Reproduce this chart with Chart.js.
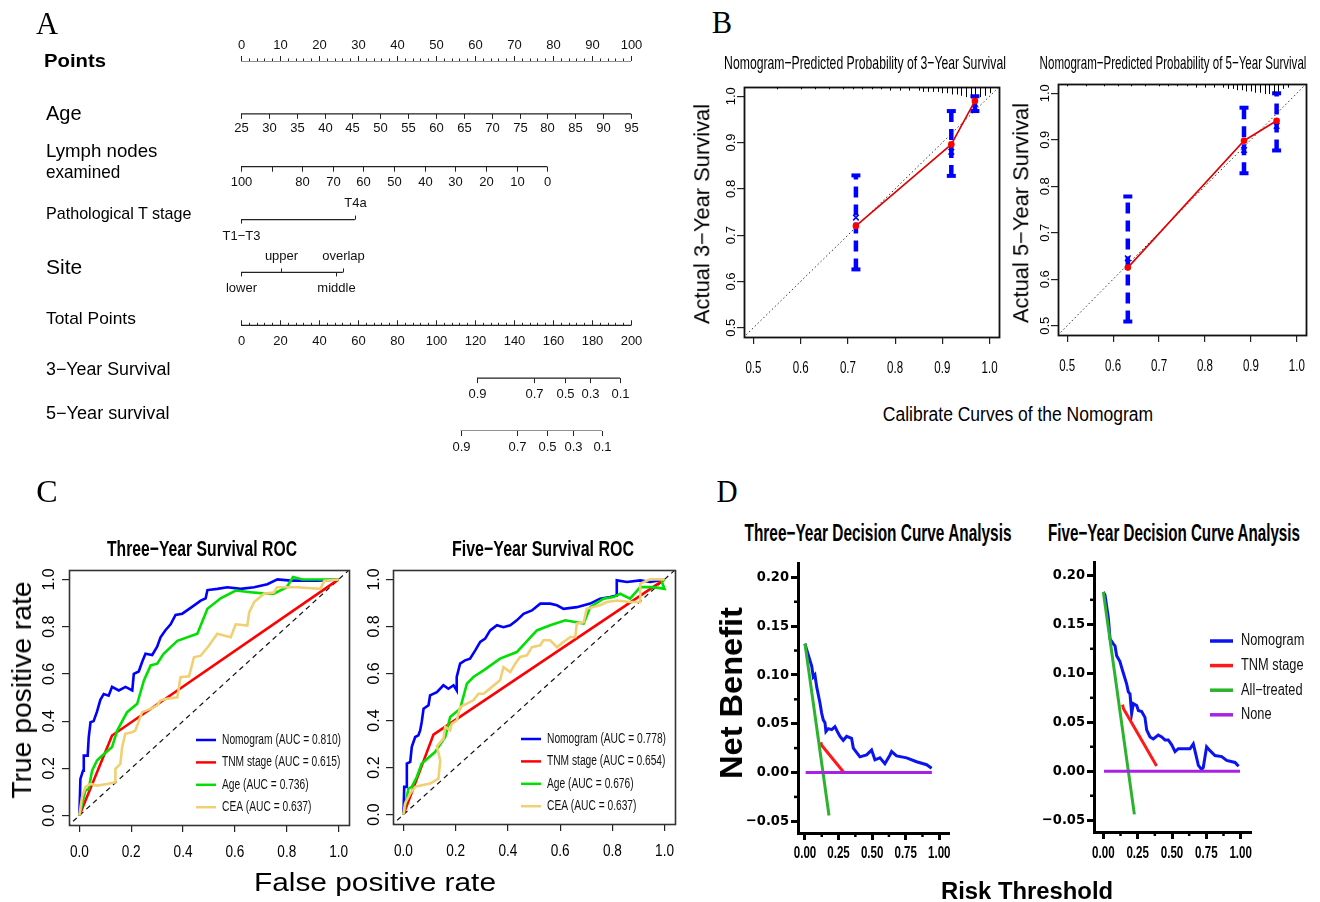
<!DOCTYPE html>
<html>
<head>
<meta charset="utf-8">
<script src="https://cdn.jsdelivr.net/npm/chart.js@4.4.1/dist/chart.umd.min.js"></script>
<style>
  html, body { margin: 0; padding: 0; background: #fff; }
  #page { position: relative; width: 1320px; height: 902px; overflow: hidden; background: #fff; color: #000;
          font-family: "Liberation Sans", Arial, sans-serif; }
  #page canvas { position: absolute; }
  .lbl { position: absolute; white-space: nowrap; line-height: 1; }
</style>
</head>
<body>
<div id="page"></div>
<script>
// ---------- A: nomogram ----------
const pointsTicks = [0, 10, 20, 30, 40, 50, 60, 70, 80, 90, 100];
const ageTicks = [25, 30, 35, 40, 45, 50, 55, 60, 65, 70, 75, 80, 85, 90, 95];
const ageSpan = [25, 95], ageSpanPts = [0, 100];
const lymphTicks = [100, 90, 80, 70, 60, 50, 40, 30, 20, 10, 0];
const lymphLabels = ['100', '', '80', '70', '60', '50', '40', '30', '20', '10', '0'];
const lymphSpan = [100, 0], lymphSpanPts = [0, 78.5];
const tStageLevels = ['T1\u2212T3', 'T4a'];
const tStagePts = [0, 29.2];
const siteLevels = ['lower', 'upper', 'middle', 'overlap'];
const sitePts = [0, 10.3, 24.4, 26.1];
const totalTicks = [0, 20, 40, 60, 80, 100, 120, 140, 160, 180, 200];
const totalSpan = [0, 200], totalSpanPts = [0, 100];
const survLabels = ['0.9', '0.7', '0.5', '0.3', '0.1'];
const surv3Total = [121.0, 150.3, 165.9, 179.0, 194.4];
const surv5Total = [112.6, 141.5, 156.9, 170.0, 185.1];

// ---------- B: calibration ----------
const calTicks = [0.5, 0.6, 0.7, 0.8, 0.9, 1.0];
const calLabels = ['0.5', '0.6', '0.7', '0.8', '0.9', '1.0'];
const calRef = [0.4, 1.1];
const cal3Pred = [0.717, 0.919, 0.969];
const cal3Obs = [0.72, 0.896, 0.99];
const cal3Lo = [0.626, 0.828, 0.968];
const cal3Hi = [0.829, 0.968, 1.0];
const cal3Corr = [0.738, 0.88, 0.974];
const rug3X = [0.55, 0.6, 0.63, 0.66, 0.69, 0.71, 0.73, 0.75, 0.77, 0.79, 0.81, 0.83, 0.85, 0.86, 0.87, 0.88, 0.89, 0.9, 0.91, 0.92, 0.93, 0.94, 0.95, 0.96, 0.97, 0.98, 0.99, 1.0];
const rug3N = [1, 1, 1, 1, 1, 1, 1, 1, 1, 2, 2, 2, 2, 3, 3, 3, 3, 4, 4, 5, 5, 6, 7, 8, 8, 7, 6, 4];
const cal5Pred = [0.632, 0.885, 0.956];
const cal5Obs = [0.625, 0.898, 0.941];
const cal5Lo = [0.509, 0.828, 0.877];
const cal5Hi = [0.778, 0.969, 1.0];
const cal5Corr = [0.645, 0.878, 0.93];
const rug5X = [0.5, 0.54, 0.58, 0.61, 0.64, 0.67, 0.7, 0.72, 0.74, 0.76, 0.78, 0.8, 0.82, 0.84, 0.85, 0.86, 0.87, 0.88, 0.89, 0.9, 0.91, 0.92, 0.93, 0.94, 0.95, 0.96, 0.97, 0.98];
const rug5N = [1, 1, 1, 1, 1, 1, 1, 1, 1, 1, 2, 2, 2, 2, 3, 3, 4, 4, 5, 5, 6, 6, 7, 7, 6, 5, 3, 2];

// ---------- C: ROC ----------
const rocTicks = [0, 0.2, 0.4, 0.6, 0.8, 1.0];
const rocLabels = ['0.0', '0.2', '0.4', '0.6', '0.8', '1.0'];
const rocRef = [-0.05, 1.05];
const roc3NomFpr = [0, 0.004, 0.014, 0.017, 0.032, 0.036, 0.043, 0.055, 0.068, 0.081, 0.094, 0.113, 0.126, 0.152, 0.178, 0.204, 0.21, 0.229, 0.242, 0.255, 0.281, 0.3, 0.313, 0.332, 0.352, 0.371, 0.397, 0.436, 0.468, 0.487, 0.494, 0.532, 0.571, 0.622, 0.674, 0.725, 0.764, 0.815, 0.919, 1.0];
const roc3NomTpr = [0, 0.155, 0.19, 0.254, 0.254, 0.33, 0.395, 0.40, 0.44, 0.49, 0.515, 0.508, 0.545, 0.53, 0.545, 0.53, 0.60, 0.61, 0.65, 0.685, 0.68, 0.715, 0.755, 0.785, 0.81, 0.85, 0.855, 0.885, 0.91, 0.92, 0.955, 0.96, 0.967, 0.96, 0.967, 0.98, 1.0, 0.995, 0.995, 1.0];
const roc3TnmFpr = [0, 0.126, 1];
const roc3TnmTpr = [0, 0.339, 1];
const roc3AgeFpr = [0, 0.023, 0.036, 0.049, 0.068, 0.081, 0.126, 0.146, 0.184, 0.223, 0.249, 0.275, 0.30, 0.325, 0.378, 0.455, 0.494, 0.545, 0.603, 0.66, 0.72, 0.75, 0.8, 0.824, 0.86, 0.93, 1.0];
const roc3AgeTpr = [0, 0.106, 0.113, 0.19, 0.233, 0.247, 0.29, 0.36, 0.438, 0.473, 0.572, 0.636, 0.643, 0.685, 0.74, 0.77, 0.876, 0.92, 0.953, 0.946, 0.94, 0.94, 0.967, 1.01, 1.0, 1.0, 1.0];
const roc3CeaFpr = [0, 0.01, 0.023, 0.043, 0.068, 0.107, 0.139, 0.139, 0.158, 0.165, 0.177, 0.203, 0.216, 0.242, 0.274, 0.3, 0.312, 0.332, 0.378, 0.39, 0.423, 0.442, 0.468, 0.5, 0.532, 0.584, 0.603, 0.648, 0.655, 0.674, 0.713, 0.75, 0.763, 0.84, 0.93, 0.945, 1];
const roc3CeaTpr = [0, 0.078, 0.12, 0.134, 0.127, 0.134, 0.141, 0.198, 0.219, 0.29, 0.346, 0.353, 0.36, 0.438, 0.452, 0.466, 0.487, 0.494, 0.501, 0.586, 0.59, 0.67, 0.677, 0.72, 0.77, 0.755, 0.81, 0.805, 0.86, 0.904, 0.94, 0.945, 0.967, 0.967, 0.96, 0.995, 1];
const roc3Names = ['Nomogram (AUC = 0.810)', 'TNM stage (AUC = 0.615)', 'Age (AUC = 0.736)', 'CEA (AUC = 0.637)'];

const roc5NomFpr = [0, 0.003, 0.013, 0.013, 0.026, 0.032, 0.045, 0.057, 0.064, 0.07, 0.077, 0.096, 0.102, 0.128, 0.153, 0.172, 0.192, 0.204, 0.204, 0.217, 0.236, 0.255, 0.275, 0.294, 0.313, 0.332, 0.358, 0.383, 0.409, 0.434, 0.46, 0.492, 0.524, 0.562, 0.588, 0.613, 0.664, 0.715, 0.753, 0.792, 0.817, 0.817, 0.856, 0.907, 0.945, 1];
const roc5NomTpr = [0, 0.118, 0.118, 0.217, 0.224, 0.288, 0.33, 0.337, 0.358, 0.394, 0.45, 0.465, 0.507, 0.521, 0.55, 0.535, 0.55, 0.528, 0.585, 0.642, 0.656, 0.663, 0.698, 0.734, 0.748, 0.783, 0.805, 0.797, 0.805, 0.826, 0.854, 0.868, 0.897, 0.897, 0.89, 0.875, 0.882, 0.897, 0.918, 0.925, 0.932, 0.996, 0.989, 0.996, 0.989, 1];
const roc5TnmFpr = [0, 0.115, 1];
const roc5TnmTpr = [0, 0.34, 1];
const roc5AgeFpr = [0, 0.019, 0.032, 0.051, 0.07, 0.121, 0.16, 0.179, 0.217, 0.243, 0.268, 0.307, 0.37, 0.434, 0.511, 0.562, 0.62, 0.69, 0.715, 0.766, 0.805, 0.83, 0.868, 0.907, 0.958, 1.0, 0.99, 1];
const roc5AgeTpr = [0, 0.11, 0.118, 0.16, 0.217, 0.266, 0.33, 0.415, 0.45, 0.557, 0.585, 0.613, 0.663, 0.691, 0.783, 0.805, 0.826, 0.812, 0.882, 0.918, 0.925, 0.939, 0.918, 0.967, 0.967, 0.96, 0.989, 1];
const roc5CeaFpr = [0, 0.006, 0.026, 0.045, 0.07, 0.102, 0.134, 0.141, 0.128, 0.153, 0.16, 0.179, 0.185, 0.204, 0.217, 0.243, 0.268, 0.287, 0.307, 0.338, 0.37, 0.383, 0.409, 0.428, 0.447, 0.473, 0.492, 0.524, 0.536, 0.562, 0.588, 0.613, 0.639, 0.658, 0.664, 0.69, 0.702, 0.753, 0.779, 0.817, 0.868, 0.907, 0.907, 0.945, 1];
const roc5CeaTpr = [0, 0.047, 0.09, 0.118, 0.125, 0.132, 0.153, 0.23, 0.29, 0.323, 0.373, 0.358, 0.386, 0.4, 0.457, 0.472, 0.486, 0.514, 0.514, 0.542, 0.571, 0.627, 0.606, 0.642, 0.67, 0.677, 0.712, 0.72, 0.741, 0.741, 0.712, 0.734, 0.755, 0.755, 0.812, 0.818, 0.875, 0.89, 0.904, 0.91, 0.904, 0.904, 0.982, 1.0, 1];
const roc5Names = ['Nomogram (AUC = 0.778)', 'TNM stage (AUC = 0.654)', 'Age (AUC = 0.676)', 'CEA (AUC = 0.637)'];

// ---------- D: decision curves ----------
const dcaXTicks = [0, 0.25, 0.5, 0.75, 1.0];
const dcaXLabels = ['0.00', '0.25', '0.50', '0.75', '1.00'];
const dcaXMinor = [0.125, 0.375, 0.625, 0.875];
const dcaYTicks = [-0.05, 0, 0.05, 0.10, 0.15, 0.20];
const dcaYLabels = ['\u22120.05', '0.00', '0.05', '0.10', '0.15', '0.20'];
const dcaYMinor = [-0.025, 0.025, 0.075, 0.125, 0.175];
const dcaNames = ['Nomogram', 'TNM stage', 'All\u2212treated', 'None'];
const dca3NomX = [0, 0.012, 0.05, 0.062, 0.074, 0.087, 0.112, 0.124, 0.136, 0.149, 0.156, 0.174, 0.199, 0.223, 0.241, 0.261, 0.285, 0.31, 0.347, 0.36, 0.409, 0.459, 0.496, 0.521, 0.558, 0.595, 0.633, 0.645, 0.682, 0.757, 0.831, 0.906, 0.943];
const dca3NomY = [0.132, 0.126, 0.109, 0.098, 0.1, 0.088, 0.071, 0.061, 0.054, 0.051, 0.042, 0.045, 0.044, 0.047, 0.042, 0.037, 0.033, 0.037, 0.035, 0.025, 0.016, 0.018, 0.023, 0.013, 0.015, 0.009, 0.018, 0.0215, 0.017, 0.015, 0.011, 0.008, 0.0044];
const dca3TnmX = [0.118, 0.124, 0.29];
const dca3TnmY = [0.031, 0.028, 0.0];
const dca3AllX = [0, 0.179];
const dca3AllY = [0.132, -0.044];
const dca3NoneX = [0.005, 0.945];
const dca3NoneY = [0, 0];
const dca5NomX = [0, 0.012, 0.036, 0.049, 0.073, 0.085, 0.097, 0.121, 0.133, 0.146, 0.17, 0.182, 0.194, 0.206, 0.218, 0.243, 0.255, 0.279, 0.303, 0.316, 0.34, 0.364, 0.4, 0.425, 0.449, 0.473, 0.498, 0.522, 0.546, 0.631, 0.655, 0.667, 0.692, 0.716, 0.728, 0.752, 0.777, 0.813, 0.862, 0.898, 0.959, 0.985];
const dca5NomY = [0.183, 0.18, 0.157, 0.135, 0.13, 0.128, 0.118, 0.112, 0.106, 0.1, 0.089, 0.081, 0.079, 0.059, 0.069, 0.067, 0.062, 0.061, 0.055, 0.042, 0.035, 0.033, 0.037, 0.035, 0.032, 0.032, 0.027, 0.02, 0.023, 0.023, 0.028, 0.021, 0.006, 0.0017, 0.004, 0.025, 0.021, 0.016, 0.015, 0.011, 0.009, 0.005];
const dca5TnmX = [0.14, 0.146, 0.388];
const dca5TnmY = [0.068, 0.064, 0.0054];
const dca5AllX = [0, 0.226];
const dca5AllY = [0.183, -0.044];
const dca5NoneX = [0.005, 0.995];
const dca5NoneY = [0, 0];

// ---------- helpers ----------
const SANS = '"Liberation Sans", Arial, sans-serif';
const NARROW = '"Liberation Sans Narrow", "Arial Narrow", "DejaVu Sans Condensed", "Liberation Sans", sans-serif';
const SERIF = '"Liberation Serif", "Times New Roman", serif';
const page = document.getElementById('page');
const zip = (xs, ys) => xs.map((x, i) => ({ x, y: ys[i] }));

Chart.defaults.color = '#000';
Chart.defaults.font.family = SANS;

function addCanvas(L, T, W, H) {
  const c = document.createElement('canvas');
  c.width = W; c.height = H;
  c.style.left = L + 'px'; c.style.top = T + 'px';
  c.style.width = W + 'px'; c.style.height = H + 'px';
  page.appendChild(c);
  return c;
}

// canvas box [L,T,W,H] and plot area [x0,y0,x1,y1] in page pixels
function makeChart(box, area, cfg, yW, xH) {
  const [L, T, W, H] = box, [x0, y0, x1, y1] = area;
  const c = addCanvas(L, T, W, H);
  cfg.options = Object.assign({ responsive: false, maintainAspectRatio: false, animation: false, events: [], devicePixelRatio: 1 }, cfg.options);
  cfg.options.layout = { padding: { left: x0 - L - yW, top: y0 - T, right: L + W - x1, bottom: T + H - y1 - xH } };
  cfg.options.plugins = Object.assign({ legend: { display: false }, tooltip: { enabled: false } }, cfg.options.plugins);
  return new Chart(c, cfg);
}

function axis(o) {
  return {
    type: 'linear', min: o.min, max: o.max, bounds: 'data',
    afterBuildTicks: s => { s.ticks = o.ticks.map(v => ({ value: v })); },
    afterFit: s => { if (o.horiz) s.height = o.size; else s.width = o.size; },
    ticks: { display: o.showLabels !== false, autoSkip: false, maxRotation: 0, minRotation: 0,
             padding: o.padding || 3, color: '#000', font: o.font, callback: (v, i) => o.labels[i] },
    grid: { display: true, drawOnChartArea: false, drawTicks: true, tickLength: o.tickLen || 7,
            lineWidth: o.tickW || 1.2, color: o.color || '#222' },
    border: o.border ? { display: true, width: o.border, color: '#000' } : { display: false }
  };
}

function spanScale(vals, pts) {
  const b = (vals[1] - vals[0]) / (pts[1] - pts[0]);
  const a = vals[0] - b * pts[0];
  return b > 0 ? { min: a, max: a + 100 * b, reverse: false } : { min: a + 100 * b, max: a, reverse: true };
}

// ---------- plugins ----------
const framePlugin = {
  id: 'frame',
  afterDatasetsDraw(chart, args, o) {
    const { ctx, chartArea: a } = chart;
    ctx.save(); ctx.strokeStyle = o.color || '#333'; ctx.lineWidth = o.lw || 1.5;
    ctx.strokeRect(Math.round(a.left) + 0.5, Math.round(a.top) + 0.5, Math.round(a.width), Math.round(a.height));
    ctx.restore();
  }
};

// y tick labels written upwards (R style)
const rotYPlugin = {
  id: 'rotY',
  afterDraw(chart, args, o) {
    const { ctx, chartArea: a } = chart, ys = chart.scales.y;
    ctx.save(); ctx.font = o.font; ctx.fillStyle = '#000';
    ctx.textAlign = 'center'; ctx.textBaseline = 'middle';
    ys.ticks.forEach((t, i) => {
      ctx.save();
      ctx.translate(a.left - o.dist, ys.getPixelForValue(t.value));
      ctx.rotate(-Math.PI / 2);
      ctx.fillText(o.labels[i], 0, 0);
      ctx.restore();
    });
    ctx.restore();
  }
};

// condensed x tick labels
const sqXPlugin = {
  id: 'sqX',
  afterDraw(chart, args, o) {
    const { ctx, chartArea: a } = chart, xs = chart.scales.x;
    ctx.save(); ctx.font = o.font; ctx.fillStyle = '#000';
    ctx.textAlign = 'center'; ctx.textBaseline = 'middle';
    xs.ticks.forEach((t, i) => {
      ctx.save();
      ctx.translate(xs.getPixelForValue(t.value), a.bottom + o.dy);
      ctx.scale(o.sx, 1);
      ctx.fillText(o.labels[i], 0, 0);
      ctx.restore();
    });
    ctx.restore();
  }
};

const rugPlugin = {
  id: 'rug',
  afterDatasetsDraw(chart, args, o) {
    const { ctx, chartArea: a } = chart, xs = chart.scales.x;
    ctx.save(); ctx.strokeStyle = '#000'; ctx.lineWidth = 1;
    o.xs.forEach((v, i) => {
      const px = Math.round(xs.getPixelForValue(v)) + 0.5;
      ctx.beginPath(); ctx.moveTo(px, a.top); ctx.lineTo(px, a.top + 1 + o.n[i] * o.unit); ctx.stroke();
    });
    ctx.restore();
  }
};

const legendPlugin = {
  id: 'lgd',
  afterDraw(chart, args, o) {
    const ctx = chart.ctx;
    let row = 0;
    chart.data.datasets.forEach(ds => {
      if (!ds.label) return;
      const y = o.y + row * o.dy;
      ctx.save();
      ctx.strokeStyle = ds.borderColor; ctx.lineWidth = o.lw;
      ctx.beginPath(); ctx.moveTo(o.x, y); ctx.lineTo(o.x + o.len, y); ctx.stroke();
      ctx.fillStyle = '#111'; ctx.font = o.font; ctx.textBaseline = 'middle';
      ctx.translate(o.x + o.len + o.gap, y); ctx.scale(o.sx, 1);
      ctx.fillText(ds.label, 0, 0);
      ctx.restore();
      row++;
    });
  }
};

const minorPlugin = {
  id: 'minor',
  afterDraw(chart, args, o) {
    const { ctx, chartArea: a } = chart, xs = chart.scales.x, ys = chart.scales.y;
    ctx.save(); ctx.strokeStyle = '#000'; ctx.lineWidth = o.lw;
    o.xs.forEach(v => { const px = xs.getPixelForValue(v); ctx.beginPath(); ctx.moveTo(px, a.bottom); ctx.lineTo(px, a.bottom + o.len); ctx.stroke(); });
    o.ys.forEach(v => { const py = ys.getPixelForValue(v); ctx.beginPath(); ctx.moveTo(a.left, py); ctx.lineTo(a.left - o.len, py); ctx.stroke(); });
    ctx.restore();
  }
};

// ---------- A: nomogram chart ----------
const nomoRows = [
  { axis: 'x', ticks: pointsTicks, labels: pointsTicks.map(String), minorStep: 2, tickDir: -1, labDir: -1, len: 5, minorLen: 2.5, labOff: 16 },
  { axis: 'xAge', ticks: ageTicks, labels: ageTicks.map(String), tickDir: 1, labDir: 1, len: 5, labOff: 15 },
  { axis: 'xLymph', ticks: lymphTicks, labels: lymphLabels, tickDir: 1, labDir: 1, len: 5, labOff: 16 },
  { axis: 'x', ticks: tStagePts, labels: tStageLevels, dirs: [1, -1], len: 4, labOff: 16.5 },
  { axis: 'x', ticks: sitePts, labels: siteLevels, dirs: [1, -1, 1, -1], len: 4, labOff: 16 },
  { axis: 'xTotal', ticks: totalTicks, labels: totalTicks.map(String), minorStep: 4, tickDir: -1, labDir: 1, len: 5, minorLen: 2.5, labOff: 16 },
  { axis: 'xTotal', ticks: surv3Total, labels: survLabels, tickDir: 1, labDir: 1, len: 5, labOff: 16 },
  { axis: 'xTotal', ticks: surv5Total, labels: survLabels, tickDir: 1, labDir: 1, len: 5, labOff: 16 }
];

const nomoPlugin = {
  id: 'nomo',
  afterDatasetsDraw(chart) {
    const ctx = chart.ctx, ys = chart.scales.y;
    const seg = (x, y1, y2) => { ctx.beginPath(); ctx.moveTo(x, y1); ctx.lineTo(x, y2); ctx.stroke(); };
    ctx.save();
    ctx.strokeStyle = '#222'; ctx.lineWidth = 1; ctx.fillStyle = '#111';
    ctx.font = '13px ' + SANS; ctx.textAlign = 'center'; ctx.textBaseline = 'middle';
    nomoRows.forEach((r, i) => {
      const sc = chart.scales[r.axis], py = ys.getPixelForValue(i);
      if (r.minorStep) {
        for (let v = r.ticks[0]; v <= r.ticks[r.ticks.length - 1] + 1e-9; v += r.minorStep) {
          seg(Math.round(sc.getPixelForValue(v)) + 0.5, py, py + r.tickDir * r.minorLen);
        }
      }
      r.ticks.forEach((v, k) => {
        const px = Math.round(sc.getPixelForValue(v)) + 0.5;
        const td = r.dirs ? r.dirs[k] : r.tickDir, ld = r.dirs ? r.dirs[k] : r.labDir;
        seg(px, py, py + td * r.len);
        if (r.labels[k]) ctx.fillText(r.labels[k], px, py + ld * r.labOff);
      });
    });
    ctx.restore();
  }
};

makeChart([0, 0, 700, 470], [241, 61, 631, 431], {
  type: 'scatter',
  data: { datasets: nomoRows.map((r, i) => ({
    xAxisID: r.axis, yAxisID: 'y', showLine: true, pointRadius: 0, borderColor: '#222', borderWidth: 1.2,
    data: [{ x: Math.min(...r.ticks), y: i }, { x: Math.max(...r.ticks), y: i }]
  })) },
  options: {
    scales: {
      x: { type: 'linear', display: false, min: 0, max: 100 },
      xAge: Object.assign({ type: 'linear', axis: 'x', display: false }, spanScale(ageSpan, ageSpanPts)),
      xLymph: Object.assign({ type: 'linear', axis: 'x', display: false }, spanScale(lymphSpan, lymphSpanPts)),
      xTotal: Object.assign({ type: 'linear', axis: 'x', display: false }, spanScale(totalSpan, totalSpanPts)),
      y: { type: 'linear', display: false, min: 0, max: nomoRows.length - 1, reverse: true }
    }
  },
  plugins: [nomoPlugin]
}, 0, 0);

// ---------- B: calibration charts ----------
function calibChart(box, area, yW, xH, pred, obs, lo, hi, corr, rugX, rugN, rotDist) {
  const bars = [], caps = [];
  pred.forEach((p, i) => {
    bars.push({ x: p, y: lo[i] }, { x: p, y: hi[i] }, { x: p, y: null });
    caps.push({ x: p, y: lo[i] }, { x: p, y: hi[i] });
  });
  makeChart(box, area, {
    type: 'scatter',
    data: { datasets: [
      { data: zip(pred, obs), showLine: true, borderColor: '#e00000', borderWidth: 1.6, pointRadius: 3.3,
        pointBackgroundColor: '#ff0000', pointBorderColor: '#ff0000', pointBorderWidth: 0, order: 0 },
      { data: zip(pred, corr), pointStyle: 'crossRot', pointRadius: 4, pointBorderColor: '#0000ff', pointBorderWidth: 1.5, order: 1 },
      { data: caps, pointStyle: 'line', pointRadius: 4.5, pointBorderColor: '#0000ff', pointBorderWidth: 4, order: 2 },
      { data: bars, showLine: true, spanGaps: false, borderColor: '#0000ff', borderWidth: 4.5, borderDash: [11, 7],
        pointRadius: 0, order: 3 },
      { data: zip(calRef, calRef), showLine: true, borderColor: '#333', borderWidth: 1, borderDash: [1.5, 2.5], pointRadius: 0, order: 4 }
    ] },
    options: {
      plugins: {
        frame: { lw: 1.8, color: '#111' },
        rotY: { dist: rotDist, labels: calLabels, font: '13px ' + SANS },
        sqX: { dy: 32, sx: 0.72, labels: calLabels, font: '16px ' + SANS },
        rug: { xs: rugX, n: rugN, unit: 1.3 }
      },
      scales: {
        x: axis({ horiz: true, min: 0.48, max: 1.02, ticks: calTicks, labels: calLabels, size: xH, showLabels: false, tickLen: 7 }),
        y: axis({ min: 0.48, max: 1.02, ticks: calTicks, labels: calLabels, size: yW, showLabels: false, tickLen: 7 })
      }
    },
    plugins: [framePlugin, rotYPlugin, sqXPlugin, rugPlugin]
  }, yW, xH);
}

calibChart([680, 75, 360, 320], [744, 87, 999, 337], 64, 58, cal3Pred, cal3Obs, cal3Lo, cal3Hi, cal3Corr, rug3X, rug3N, 12.5);
calibChart([996, 72, 360, 323], [1058, 84, 1306, 335], 62, 60, cal5Pred, cal5Obs, cal5Lo, cal5Hi, cal5Corr, rug5X, rug5N, 13);

// ---------- C: ROC charts ----------
function rocChart(box, area, yW, xH, series, names, lgd, rotDist) {
  const colors = ['#0000ff', '#ff0000', '#00e000', '#f0d073'];
  const ds = series.map((s, i) => ({
    label: names[i], data: zip(s[0], s[1]), showLine: true, pointRadius: 0, borderWidth: 2.6,
    borderColor: colors[i], order: series.length - 1 - i
  }));
  ds.push({ data: zip(rocRef, rocRef), showLine: true, pointRadius: 0, borderWidth: 1.2, borderColor: '#111', borderDash: [5, 4], order: 9 });
  makeChart(box, area, {
    type: 'scatter',
    data: { datasets: ds },
    options: {
      plugins: {
        frame: { lw: 1.6, color: '#333' },
        rotY: { dist: rotDist, labels: rocLabels, font: '16px ' + SANS },
        sqX: { dy: 28, sx: 0.85, labels: rocLabels, font: '16px ' + SANS },
        lgd: lgd
      },
      scales: {
        x: axis({ horiz: true, min: -0.04, max: 1.04, ticks: rocTicks, labels: rocLabels, size: xH, showLabels: false, tickLen: 7 }),
        y: axis({ min: -0.04, max: 1.04, ticks: rocTicks, labels: rocLabels, size: yW, showLabels: false, tickLen: 7 })
      }
    },
    plugins: [framePlugin, rotYPlugin, sqXPlugin, legendPlugin]
  }, yW, xH);
}

rocChart([0, 560, 380, 315], [69, 570, 349, 825], 69, 50,
  [[roc3NomFpr, roc3NomTpr], [roc3TnmFpr, roc3TnmTpr], [roc3AgeFpr, roc3AgeTpr], [roc3CeaFpr, roc3CeaTpr]], roc3Names,
  { x: 196, y: 180, dy: 22.4, len: 20, gap: 6, lw: 2.5, font: '14px ' + SANS, sx: 0.73 }, 19);
rocChart([350, 560, 360, 315], [393, 570, 675, 824], 43, 51,
  [[roc5NomFpr, roc5NomTpr], [roc5TnmFpr, roc5TnmTpr], [roc5AgeFpr, roc5AgeTpr], [roc5CeaFpr, roc5CeaTpr]], roc5Names,
  { x: 171, y: 179, dy: 22.4, len: 20, gap: 6, lw: 2.5, font: '14px ' + SANS, sx: 0.73 }, 18);

// ---------- D: decision curve charts ----------
function dcaChart(box, area, yW, xH, xr, yr, series, lgd, xDy) {
  const colors = ['#0a14f0', '#ff1a1a', '#2db22d', '#a822e6'];
  const order = [3, 2, 1, 0];
  const ds = series.map((s, i) => ({
    label: lgd ? dcaNames[i] : undefined, data: zip(s[0], s[1]), showLine: true, pointRadius: 0,
    borderWidth: 3, borderColor: colors[i], order: order[i]
  }));
  const plugins = {
    minor: { xs: dcaXMinor, ys: dcaYMinor, len: 4, lw: 2.5 },
    sqX: { dy: xDy, sx: 0.7, labels: dcaXLabels, font: 'bold 16.5px ' + SANS }
  };
  if (lgd) plugins.lgd = lgd;
  makeChart(box, area, {
    type: 'scatter',
    data: { datasets: ds },
    options: {
      plugins,
      scales: {
        x: axis({ horiz: true, min: xr[0], max: xr[1], ticks: dcaXTicks, labels: dcaXLabels, size: xH, showLabels: false,
                  tickLen: 7, tickW: 3, color: '#000', border: 3 }),
        y: axis({ min: yr[0], max: yr[1], ticks: dcaYTicks, labels: dcaYLabels, size: yW,
                  font: { family: NARROW, size: 14.5, weight: 'bold' }, padding: 2, tickLen: 7, tickW: 3, color: '#000', border: 3 })
      }
    },
    plugins: lgd ? [minorPlugin, sqXPlugin, legendPlugin] : [minorPlugin, sqXPlugin]
  }, yW, xH);
}

dcaChart([735, 550, 250, 330], [798, 563, 948, 833], 63, 47, [-0.052, 1.065], [-0.062, 0.2147],
  [[dca3NomX, dca3NomY], [dca3TnmX, dca3TnmY], [dca3AllX, dca3AllY], [dca3NoneX, dca3NoneY]], null, 20.5);
dcaChart([1030, 550, 330, 330], [1094, 562, 1250, 832], 64, 48, [-0.068, 1.068], [-0.062, 0.2136],
  [[dca5NomX, dca5NomY], [dca5TnmX, dca5TnmY], [dca5AllX, dca5AllY], [dca5NoneX, dca5NoneY]],
  { x: 180, y: 91, dy: 24.6, len: 23, gap: 8, lw: 3.5, font: '16px ' + SANS, sx: 0.8 }, 21.5);

// ---------- page text ----------
const texts = [
  { t: 'A', x: 47, y: 23, size: 32, fam: SERIF, w: 22 },
  { t: 'B', x: 722, y: 22, size: 32, fam: SERIF, w: 20 },
  { t: 'C', x: 47, y: 491, size: 32, fam: SERIF, w: 21 },
  { t: 'D', x: 727, y: 491, size: 32, fam: SERIF, w: 21 },
  { t: 'Points', x: 44, y: 61, size: 18, bold: true, w: 62, left: true },
  { t: 'Age', x: 46, y: 113, size: 20, w: 36, left: true },
  { t: 'Lymph nodes', x: 46, y: 151, size: 18.5, w: 111, left: true },
  { t: 'examined', x: 46, y: 172, size: 18.5, w: 74, left: true },
  { t: 'Pathological T stage', x: 46, y: 213, size: 17, w: 145, left: true },
  { t: 'Site', x: 46, y: 266, size: 21, w: 36, left: true },
  { t: 'Total Points', x: 46, y: 318, size: 17, w: 90, left: true },
  { t: '3\u2212Year Survival', x: 46, y: 370, size: 17.5, w: 124, left: true },
  { t: '5\u2212Year survival', x: 46, y: 414, size: 17.5, w: 124, left: true },
  { t: 'Nomogram\u2212Predicted Probability of 3\u2212Year Survival', x: 865, y: 62, size: 19, w: 282 },
  { t: 'Nomogram\u2212Predicted Probability of 5\u2212Year Survival', x: 1173, y: 62, size: 19, w: 267 },
  { t: 'Actual 3\u2212Year Survival', x: 703, y: 214, size: 21.5, w: 220, rot: -90 },
  { t: 'Actual 5\u2212Year Survival', x: 1022, y: 213, size: 21.5, w: 220, rot: -90 },
  { t: 'Calibrate Curves of the Nomogram', x: 1018, y: 415, size: 19.5, w: 270 },
  { t: 'Three\u2212Year Survival ROC', x: 202, y: 549, size: 22, bold: true, w: 190 },
  { t: 'Five\u2212Year Survival ROC', x: 543, y: 549, size: 22, bold: true, w: 182 },
  { t: 'True positive rate', x: 22, y: 690, size: 28, w: 217, rot: -90 },
  { t: 'False positive rate', x: 375, y: 882, size: 26, w: 242 },
  { t: 'Three\u2212Year Decision Curve Analysis', x: 878, y: 533, size: 24, bold: true, w: 267 },
  { t: 'Five\u2212Year Decision Curve Analysis', x: 1174, y: 533, size: 24, bold: true, w: 252 },
  { t: 'Net Benefit', x: 731, y: 693, size: 32, bold: true, w: 172, rot: -90 },
  { t: 'Risk Threshold', x: 1027, y: 891, size: 23, bold: true, w: 172 }
];

texts.forEach(s => {
  const d = document.createElement('div');
  d.className = 'lbl';
  d.textContent = s.t;
  d.style.fontFamily = s.fam || SANS;
  d.style.fontSize = s.size + 'px';
  d.style.fontWeight = s.bold ? 'bold' : 'normal';
  d.style.left = s.x + 'px';
  d.style.top = s.y + 'px';
  page.appendChild(d);
  const k = s.w ? s.w / d.offsetWidth : 1;
  if (s.left) {
    d.style.transformOrigin = '0 50%';
    d.style.transform = 'translate(0,-50%) scaleX(' + k + ')';
  } else {
    d.style.transform = 'translate(-50%,-50%) rotate(' + (s.rot || 0) + 'deg) scaleX(' + k + ')';
  }
});
</script>
</body>
</html>
